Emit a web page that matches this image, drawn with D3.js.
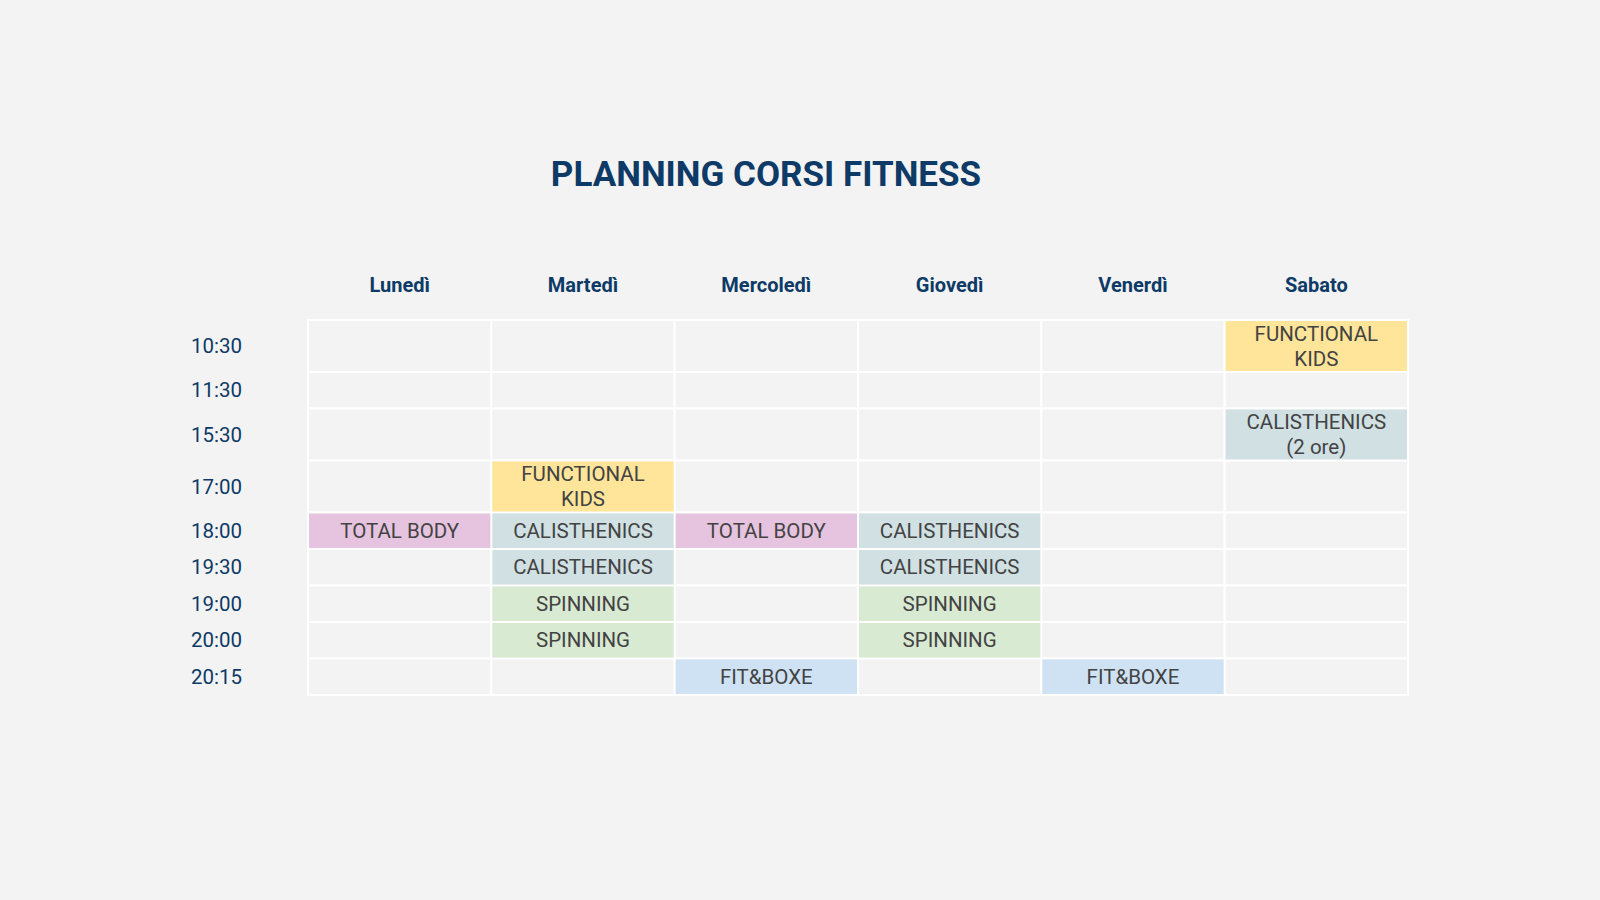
<!DOCTYPE html>
<html><head><meta charset="utf-8">
<script src="https://cdn.jsdelivr.net/npm/d3@7"></script>
<style>body{margin:0;background:#f3f3f3;font-family:Roboto,sans-serif}</style>
</head><body><svg id="c" width="1600" height="900"></svg>
<script>
const title = "PLANNING CORSI FITNESS";
const days = ["Lunedì","Martedì","Mercoledì","Giovedì","Venerdì","Sabato"];
const times = ["10:30","11:30","15:30","17:00","18:00","19:30","19:00","20:00","20:15"];
const rowLines = [2,1,2,2,1,1,1,1,1];
const classes = [
  {day:"Sabato", time:"10:30", name:"FUNCTIONAL\nKIDS", type:"kids"},
  {day:"Sabato", time:"15:30", name:"CALISTHENICS\n(2 ore)", type:"cal"},
  {day:"Martedì", time:"17:00", name:"FUNCTIONAL\nKIDS", type:"kids"},
  {day:"Lunedì", time:"18:00", name:"TOTAL BODY", type:"tb"},
  {day:"Martedì", time:"18:00", name:"CALISTHENICS", type:"cal"},
  {day:"Mercoledì", time:"18:00", name:"TOTAL BODY", type:"tb"},
  {day:"Giovedì", time:"18:00", name:"CALISTHENICS", type:"cal"},
  {day:"Martedì", time:"19:30", name:"CALISTHENICS", type:"cal"},
  {day:"Giovedì", time:"19:30", name:"CALISTHENICS", type:"cal"},
  {day:"Martedì", time:"19:00", name:"SPINNING", type:"spin"},
  {day:"Giovedì", time:"19:00", name:"SPINNING", type:"spin"},
  {day:"Martedì", time:"20:00", name:"SPINNING", type:"spin"},
  {day:"Giovedì", time:"20:00", name:"SPINNING", type:"spin"},
  {day:"Mercoledì", time:"20:15", name:"FIT&BOXE", type:"box"},
  {day:"Venerdì", time:"20:15", name:"FIT&BOXE", type:"box"}
];
const typeColors = {kids:"#ffe599", cal:"#d0e0e3", tb:"#e6c3df", spin:"#d9ead3", box:"#cfe2f3"};

const svg = d3.select("#c");
const navy = "#0d3a66";
const x = d3.scaleBand().domain(days).range([308,1408]);
// row positions from line counts
const unit = 36.5, twoLine = 52;
const rowH = rowLines.map(l => l===2 ? twoLine : unit);
const total = d3.sum(rowH);
const cum = d3.cumsum([0,...rowH]);
const yLin = d3.scaleLinear().domain([0,total]).range([320,320+total]);
const rowY = t => yLin(cum[times.indexOf(t)]);
const rowHt = t => yLin(cum[times.indexOf(t)+1]) - rowY(t);

svg.append("text").attr("x",766).attr("y",186).attr("text-anchor","middle")
  .attr("font-size",35).attr("font-weight",700).attr("fill",navy).text(title);

svg.selectAll(".dh").data(days).join("text")
  .attr("x",d=>x(d)+x.bandwidth()/2).attr("y",292).attr("text-anchor","middle")
  .attr("font-size",20).attr("font-weight",700).attr("fill",navy).text(d=>d);

svg.selectAll(".tl").data(times).join("text")
  .attr("x",191).attr("y",t=>rowY(t)+rowHt(t)/2+7)
  .attr("font-size",20.5).attr("fill",navy).text(t=>t);

// empty grid
const cells = times.flatMap(t=>days.map(d=>({t,d})));
svg.selectAll(".cell").data(cells).join("rect")
  .attr("x",c=>x(c.d)).attr("y",c=>rowY(c.t)).attr("width",x.bandwidth()).attr("height",c=>rowHt(c.t))
  .attr("fill","#f3f3f3").attr("stroke","#ffffff").attr("stroke-width",2);

const g = svg.selectAll(".cls").data(classes).join("g");
g.append("rect")
  .attr("x",c=>x(c.day)+1).attr("y",c=>rowY(c.time)+1)
  .attr("width",x.bandwidth()-2).attr("height",c=>rowHt(c.time)-2)
  .attr("fill",c=>typeColors[c.type]);
g.each(function(c){
  const lines = c.name.split("\n");
  const cy = rowY(c.time)+rowHt(c.time)/2;
  const t = d3.select(this).append("text").attr("text-anchor","middle")
    .attr("font-size",20.5).attr("fill","#434343");
  lines.forEach((l,i)=>{
    t.append("tspan").attr("x",x(c.day)+x.bandwidth()/2)
     .attr("y",cy+7+(i-(lines.length-1)/2)*25).text(l);
  });
});
</script></body></html>
